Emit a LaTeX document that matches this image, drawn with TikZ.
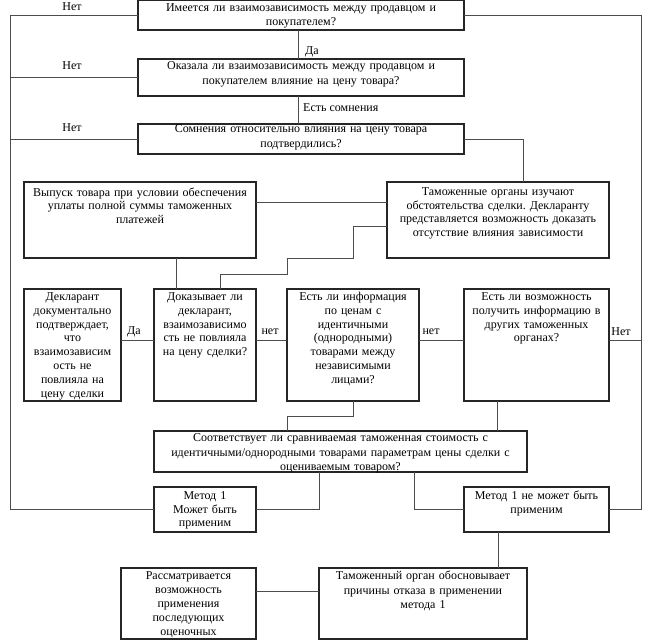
\documentclass[tikz,border=0pt]{standalone}
\usepackage{fontspec}
\setmainfont{Liberation Serif}
\frenchspacing
\tikzset{
 boxst/.style={draw=black!85, line width=1.1pt, inner sep=0pt, outer sep=0pt},
 txt/.style={inner sep=0pt, align=center},
 lbl/.style={inner sep=0pt, font=\fontsize{12}{14}\selectfont},
 conn/.style={draw=black!70, line width=0.8pt},
}
\newcommand\bx[8]{%
 \node[boxst, anchor=north west, minimum width={(#4-#2)*1pt}, minimum height={(#5-#3)*1pt}] (#1) at (#2,#3) {};
 \node[txt, anchor=base, text width={(#4-#2+30)*1pt}, font=\fontsize{12}{#7}\selectfont] (#1t) at ([yshift=-#6pt]#1.north) {#8};
}
\begin{document}
\begin{tikzpicture}[x=1pt,y=-1pt]
\useasboundingbox (0,0) rectangle (653,642);
% boxes
\bx{b1}{138}{0.6}{464}{30}{10.5}{14.5}{Имеется ли взаимозависимость между продавцом и\\покупателем?}
\bx{b2}{138}{59}{464}{96}{10.5}{15}{Оказала ли взаимозависимость между продавцом и\\покупателем влияние на цену товара?}
\bx{b3}{138}{124}{464}{154}{8}{15}{Сомнения относительно влияния на цену товара\\подтвердились?}
\bx{vyp}{24}{182}{256}{258}{14}{13.5}{Выпуск товара при условии обеспечения\\уплаты полной суммы таможенных\\платежей}
\bx{tam}{387}{182}{609}{258}{13.5}{13.7}{Таможенные органы изучают\\обстоятельства сделки. Декларанту\\представляется возможность доказать\\отсутствие влияния зависимости}
\bx{dek}{24}{289}{121}{401}{11.5}{13.8}{Декларант\\документально\\подтверждает,\\что\\взаимозависим\\ость не\\повлияла на\\цену сделки}
\bx{dok}{154}{289}{256}{401}{11.5}{13.8}{Доказывает ли\\декларант,\\взаимозависимо\\сть не повлияла\\на цену сделки?}
\bx{inf}{287}{289}{419}{401}{11.5}{13.8}{Есть ли информация\\по ценам с\\идентичными\\(однородными)\\товарами между\\независимыми\\лицами?}
\bx{vozm}{464}{289}{609}{401}{11.5}{13.8}{Есть ли возможность\\получить информацию в\\других таможенных\\органах?}
\bx{sootv}{154}{431}{527}{472}{10.5}{14.5}{Соответствует ли сравниваемая таможенная стоимость с\\идентичными/однородными товарами параметрам цены сделки с\\оцениваемым товаром?}
\bx{m1}{154}{487}{256}{532}{12.5}{13.5}{Метод 1\\Может быть\\применим}
\bx{m1n}{464}{487}{609}{532}{12.5}{14}{Метод 1 не может быть\\применим}
\bx{tamorg}{319}{568}{527}{639}{11.5}{14.5}{Таможенный орган обосновывает\\причины отказа в применении\\метода 1}
\bx{rass}{121}{568}{256}{639}{11.5}{14}{Рассматривается\\возможность\\применения\\последующих\\оценочных}
% helper coordinates
\coordinate (L) at (10,0);
\coordinate (R) at (641,0);
\coordinate (x298) at (298,0);
\coordinate (x523) at (523,0);
\coordinate (x176) at (176,0);
\coordinate (x220) at (220,0);
\coordinate (x287) at (287,0);
\coordinate (x319) at (319,0);
\coordinate (x414) at (414,0);
\coordinate (x497) at (497,0);
\coordinate (x498) at (498,0);
\coordinate (y202) at (0,202);
\coordinate (y226) at (0,226);
\coordinate (y340) at (0,340);
\coordinate (y591) at (0,591);
% connectors
\draw[conn] (b1.south -| x298) -- (b2.north -| x298);
\draw[conn] (b2.south -| x298) -- (b3.north -| x298);
\draw[conn] (b1.west) -- (b1.west -| L) -- (m1.west -| L) -- (m1.west);
\draw[conn] (b2.west) -- (b2.west -| L);
\draw[conn] (b3.west) -- (b3.west -| L);
\draw[conn] (b1.east) -- (b1.east -| R) -- (m1n.east -| R) -- (m1n.east);
\draw[conn] (b3.east) -| (tam.north -| x523);
\draw[conn] (vyp.east |- y202) -- (tam.west |- y202);
\draw[conn] (vyp.south -| x176) -- (dok.north -| x176);
\draw[conn] (tam.west |- y226) -- (353,226) -- (353,258) -- (287,258) -- (287,274) -- (220,274) -- (dok.north -| x220);
\draw[conn] (dek.east |- y340) -- (dok.west |- y340);
\draw[conn] (dok.east |- y340) -- (inf.west |- y340);
\draw[conn] (inf.east |- y340) -- (vozm.west |- y340);
\draw[conn] (vozm.east |- y340) -- (R |- y340);
\draw[conn] (vozm.south -| x497) -- (sootv.north -| x497);
\draw[conn] (inf.south) -- (353,416) -- (287,416) -- (sootv.north -| x287);
\draw[conn] (sootv.south -| x319) |- (m1.east);
\draw[conn] (sootv.south -| x414) |- (m1n.west);
\draw[conn] (m1n.south -| x498) -- (tamorg.north -| x498);
\draw[conn] (rass.east |- y591) -- (tamorg.west |- y591);
% labels
\node[lbl] (n1) at (72,7) {Нет};
\node[lbl] (n2) at (72,66) {Нет};
\node[lbl] (n3) at (72,128) {Нет};
\node[lbl] (da1) at (312,52) {Да};
\node[lbl, anchor=west] (es) at (303,108) {Есть сомнения};
\node[lbl] (da2) at (134,332) {Да};
\node[lbl] (net1) at (270,332) {нет};
\node[lbl] (net2) at (431,332) {нет};
\node[lbl] (net3) at (621,332) {Нет};
\end{tikzpicture}
\end{document}
